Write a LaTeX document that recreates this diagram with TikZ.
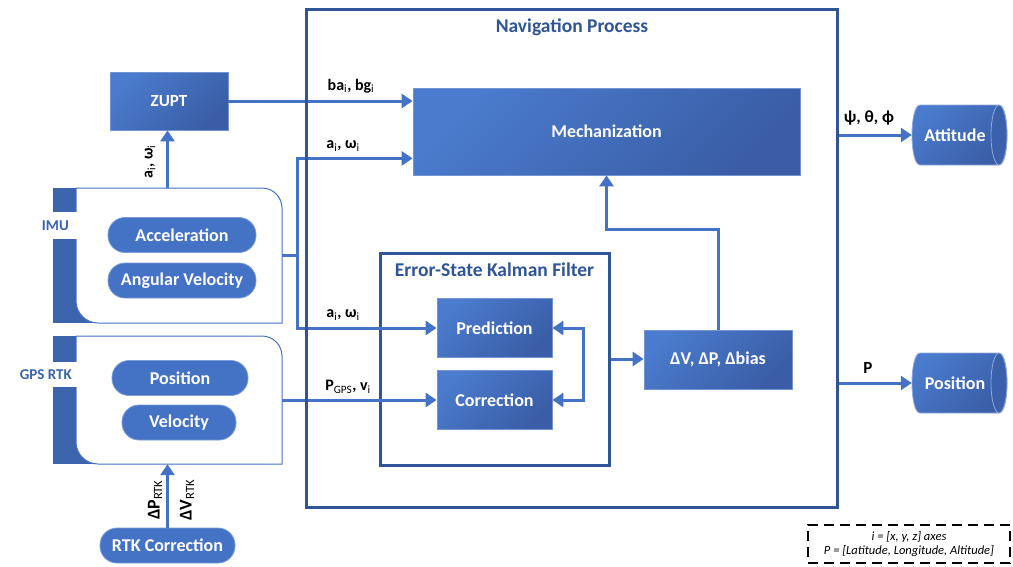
\documentclass[tikz,border=0pt]{standalone}
\usepackage{fontspec}
\setmainfont{Carlito}
\usetikzlibrary{arrows.meta,calc}

\definecolor{navc}{HTML}{2F5597}
\definecolor{linec}{HTML}{4472C4}
\definecolor{gtop}{HTML}{4A7BCC}
\definecolor{gbot}{HTML}{3A5DA6}
\definecolor{pillc}{HTML}{4472C4}
\definecolor{stripc}{HTML}{3B64AD}
\newcommand\fsz[1]{\fontsize{#1}{#1}\selectfont}
\newcommand\sub[1]{\textsubscript{\mdseries #1}}
% horizontal drum: left x, right x (cap centre), centre y, half height, cap radius
\newcommand\drum[5]{%
  \shade[top color=gtop, bottom color=gbot, shading angle=45, draw=linec!60!white, line width=0.8pt]
    (#1+#5,#3-#4) -- (#2,#3-#4)
    .. controls (#2+1.333*#5,#3-#4) and (#2+1.333*#5,#3+#4) .. (#2,#3+#4)
    -- (#1+#5,#3+#4)
    .. controls (#1-0.333*#5,#3+#4) and (#1-0.333*#5,#3-#4) .. (#1+#5,#3-#4) -- cycle;
  \draw[fill=gbot!85!gtop, draw=linec!60!white, line width=0.8pt] (#2,#3) ellipse [x radius=#5, y radius=#4];
}

\begin{document}
\begin{tikzpicture}[x=1pt,y=-1pt,
  blk/.style={draw=linec!75!white, line width=0.8pt, top color=gtop, bottom color=gbot,
    shading angle=45, text=white, font=\bfseries\fsz{18}, inner sep=0pt},
  pill/.style={draw=linec!70!white, line width=0.8pt, fill=pillc, rounded corners=17pt,
    text=white, font=\bfseries\fsz{18}, inner sep=0pt, minimum height=35pt},
  store/.style={text=white, font=\bfseries\fsz{18}, inner sep=0pt,
    minimum width=96pt, minimum height=60pt},
  flow/.style={draw=linec, line width=3pt, -{Triangle[length=11pt,width=14pt]}},
  both/.style={draw=linec, line width=3pt, {Triangle[length=11pt,width=14pt]}-{Triangle[length=11pt,width=14pt]}},
  lab/.style={font=\bfseries\fsz{16}, inner sep=0pt},
  frame/.style={draw=navc, line width=3pt},
  ttl/.style={text=navc, font=\bfseries\fsz{19.5}, inner sep=0pt},
  side/.style={text=stripc, font=\bfseries\fsz{15}, inner sep=0pt, anchor=east},
  hull/.style={draw=linec, line width=1pt, fill=white},
]
\useasboundingbox (0,0) rectangle (1013,566);

% ---- sensor containers ----
\node[minimum width=229pt, minimum height=135pt, inner sep=0pt] (imu) at (167.5,255.5) {};
\node[minimum width=229pt, minimum height=128pt, inner sep=0pt] (gps) at (167.5,400) {};

\fill[stripc] (53,188) rectangle (100,323);
\draw[hull] (76,188) -- (262,188) .. controls (273,188) and (282,197) .. (282,208)
  -- (282,323) -- (98,323) .. controls (86,323) and (76,313) .. (76,301) -- cycle;
\fill[white] (40,212) rectangle (76.5,239);
\node[side] at (69,225.5) {IMU};

\fill[stripc] (53,336) rectangle (100,464);
\draw[hull] (76,336) -- (262,336) .. controls (273,336) and (282,345) .. (282,356)
  -- (282,464) -- (98,464) .. controls (86,464) and (76,454) .. (76,442) -- cycle;
\fill[white] (10,362) rectangle (76.5,387);
\node[side] at (72,374.5) {GPS RTK};

\node[pill, minimum width=148pt] (acc) at (182,235) {Acceleration};
\node[pill, minimum width=148pt] (ang) at (182,280.5) {Angular Velocity};
\node[pill, minimum width=136pt] (posp) at (180,378) {Position};
\node[pill, minimum width=114pt] (vel) at (179,422.5) {Velocity};
\node[pill, minimum width=135pt] (rtk) at (167.5,545.5) {RTK Correction};

% ---- processing blocks ----
\node[minimum width=530pt, minimum height=497pt, inner sep=0pt] (nav) at (572,258.5) {};
\node[ttl] at (572,27) {Navigation Process};

\node[blk, minimum width=118pt, minimum height=58pt, font=\bfseries\fsz{17}] (zupt) at (169,101) {ZUPT};
\node[blk, minimum width=387pt, minimum height=87pt] (mech) at (606.5,131.5) {Mechanization};

\node[frame, minimum width=229pt, minimum height=212pt, inner sep=0pt] (eskf) at (494.5,359) {};
\node[ttl] at (494.5,270) {Error-State Kalman Filter};
\node[blk, minimum width=115pt, minimum height=59pt] (pred) at (494.5,328) {Prediction};
\node[blk, minimum width=115pt, minimum height=59pt] (corr) at (494.5,400) {Correction};
\node[blk, minimum width=148pt, minimum height=59pt] (dv) at (718,359.5) {ΔV, ΔP, Δbias};

% ---- output stores ----
\drum{912}{999}{135}{30}{8}
\drum{912}{999}{383}{30}{8}
\node[store] (att) at (960,135) {\hspace*{-10pt}Attitude};
\node[store] (pos) at (960,383) {\hspace*{-10pt}Position};

% ---- connectors ----
\draw[flow] (zupt.east) -- (zupt.east -| mech.west);
\draw[flow] (imu.north) -- (imu.north |- zupt.south);
\draw[flow] (imu.east) -- ++(15,0) |- ([yshift=17pt]mech.south west);
\draw[flow] (imu.east) -- ++(15,0) |- (pred.west);
\draw[flow] (gps.east) -- (gps.east -| corr.west);
\draw[flow] (rtk.north) -- (rtk.north |- gps.south);
\coordinate (fb) at (583,364);
\draw[both] (pred.east) -| (fb) |- (corr.east);
\draw[flow] (eskf.east) -- (eskf.east -| dv.west);
\draw[flow] (dv.north) -- ++(0,-100) -| (mech.south);
\draw[flow] (nav.east |- att.west) -- (att.west);
\draw[flow] (nav.east |- pos.west) -- (pos.west);

\draw[frame] (nav.north west) rectangle (nav.south east);

% ---- connector labels ----
\node[lab] at (351,86) {ba\sub{i}, bg\sub{i}};
\node[lab] at (343,146) {a\sub{i}, ω\sub{i}};
\node[lab] at (343,315) {a\sub{i}, ω\sub{i}};
\node[lab] at (348,387) {P\sub{GPS}, v\sub{i}};
\node[lab, rotate=90] at (150,162) {a\sub{i}, ω\sub{i}};
\node[lab, rotate=90, font=\bfseries\fsz{18}] at (155,500) {ΔP\sub{RTK}};
\node[lab, rotate=90, font=\bfseries\fsz{18}] at (187,500) {ΔV\sub{RTK}};
\node[lab, font=\bfseries\fsz{17}] at (869,118) {ψ, θ, ϕ};
\node[lab, font=\bfseries\fsz{17}] at (868,368) {P};

% ---- legend ----
\node[draw, line width=1.5pt, dash pattern=on 10pt off 6pt, minimum width=202pt,
  minimum height=38pt, align=center, font=\itshape\fontsize{12.5}{14}\selectfont,
  inner sep=0pt] (legend) at (909,544)
  {i = [x, y, z] axes\\P = [Latitude, Longitude, Altitude]};
\end{tikzpicture}
\end{document}
